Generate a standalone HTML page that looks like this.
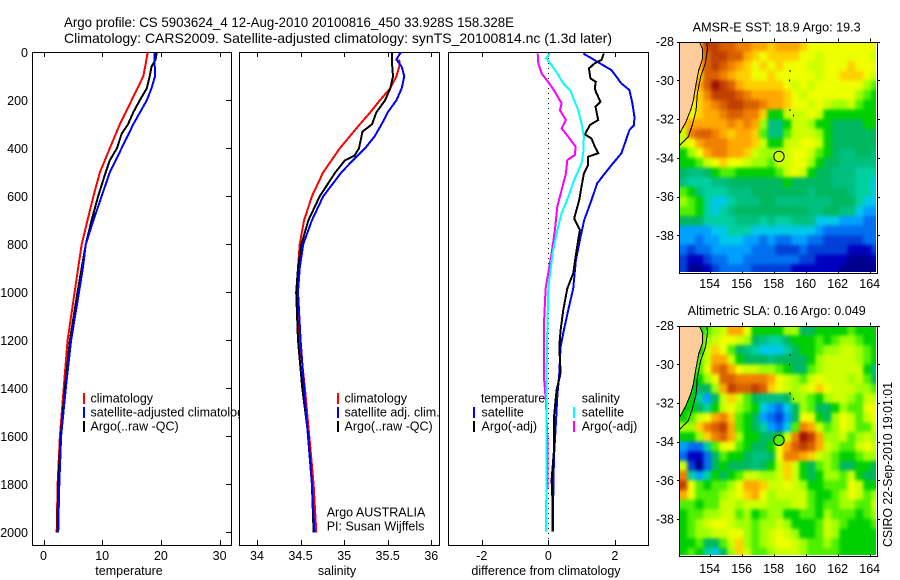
<!DOCTYPE html>
<html lang="en">
<head>
<meta charset="utf-8">
<title>Argo profile CS 5903624_4</title>
<style>
html,body{margin:0;padding:0;background:#fff;}
svg{display:block;}
text{font-family:"Liberation Sans",sans-serif;font-size:12.5px;fill:#000;}
.title{font-size:14px;}
.maptitle{font-size:12.5px;}
</style>
</head>
<body>
<svg id="chart" xmlns="http://www.w3.org/2000/svg" width="900" height="580" viewBox="0 0 900 580">
<rect x="0" y="0" width="900" height="580" fill="#fff"/>
<defs>
<filter id="map-smooth" filterUnits="userSpaceOnUse" x="640" y="0" width="260" height="580" color-interpolation-filters="sRGB"><feGaussianBlur stdDeviation="1.8"/></filter>
</defs>
<text class="title" x="64" y="27" textLength="450" lengthAdjust="spacingAndGlyphs">Argo profile: CS 5903624_4 12-Aug-2010 20100816_450 33.928S 158.328E</text>
<text class="title" x="64" y="43" textLength="548" lengthAdjust="spacingAndGlyphs">Climatology: CARS2009. Satellite-adjusted climatology: synTS_20100814.nc (1.3d later)</text>

<g id="panel-temp">
<rect x="32.5" y="52.5" width="199" height="493" fill="#fff" stroke="#000"/>
<text x="129" y="575" text-anchor="middle">temperature</text>
</g>
<g>
<rect x="83" y="393" width="2" height="11" fill="#f00"/>
<rect x="83" y="407" width="2" height="11" fill="#00f"/>
<rect x="83" y="421" width="2" height="11" fill="#000"/>
<text x="90.5" y="402.5">climatology</text>
<text x="90.5" y="416.5">satellite-adjusted climatology</text>
<text x="90.5" y="430.5">Argo(..raw -QC)</text>
</g>

<g id="panel-sal">
<rect x="239.5" y="52.5" width="200" height="493" fill="#fff" stroke="#000"/>
<text x="337" y="575" text-anchor="middle">salinity</text>
</g>
<g>
<rect x="337" y="393" width="2" height="11" fill="#f00"/>
<rect x="337" y="407" width="2" height="11" fill="#00f"/>
<rect x="337" y="421" width="2" height="11" fill="#000"/>
<text x="344.5" y="402.5">climatology</text>
<text x="344.5" y="416.5">satellite adj. clim.</text>
<text x="344.5" y="430.5">Argo(..raw -QC)</text>
<text x="326.7" y="516.5">Argo AUSTRALIA</text>
<text x="326.7" y="530.5">PI: Susan Wijffels</text>
</g>

<g id="panel-diff">
<rect x="448.5" y="52.5" width="200" height="493" fill="#fff" stroke="#000"/>
<text x="546" y="575" text-anchor="middle">difference from climatology</text>
</g>
<g>
<text x="481" y="402.5" textLength="64" lengthAdjust="spacingAndGlyphs">temperature</text>
<rect x="473" y="407" width="2" height="11" fill="#00f"/>
<rect x="473" y="421" width="2" height="11" fill="#000"/>
<text x="481.5" y="416.5">satellite</text>
<text x="481.5" y="430.5">Argo(-adj)</text>
<text x="581.7" y="402.5">salinity</text>
<rect x="573" y="407" width="2" height="11" fill="#0ff"/>
<rect x="573" y="421" width="2" height="11" fill="#f0f"/>
<text x="581.7" y="416.5">satellite</text>
<text x="581.7" y="430.5">Argo(-adj)</text>
</g>

<clipPath id="clip-sst"><rect x="680" y="42" width="196" height="230"/></clipPath>
<clipPath id="clip-sla"><rect x="680" y="326" width="196" height="229"/></clipPath>
<text class="maptitle" x="692.7" y="31.5" textLength="168" lengthAdjust="spacingAndGlyphs">AMSR-E SST: 18.9 Argo: 19.3</text>
<g id="map-sst"></g>
<text class="maptitle" x="687.7" y="315" textLength="178" lengthAdjust="spacingAndGlyphs">Altimetric SLA: 0.16 Argo: 0.049</text>
<g id="map-sla"></g>
<text transform="translate(892,547) rotate(-90)" textLength="165" lengthAdjust="spacingAndGlyphs">CSIRO 22-Sep-2010 19:01:01</text>
</svg>

<script>
// ---- axis ticks ----
const depthTicks = [0, 200, 400, 600, 800, 1000, 1200, 1400, 1600, 1800, 2000];
const tempTicks = [0, 10, 20, 30];
const salTicks = [34, 34.5, 35, 35.5, 36];
const diffTicks = [-2, 0, 2];
const lonTicks = [154, 156, 158, 160, 162, 164];
const latTicks = [28, 30, 32, 34, 36, 38];

// ---- temperature panel ----
const tempClimDepth = [0, 50, 100, 130, 200, 300, 400, 500, 600, 700, 800, 900, 1000, 1200, 1400, 1600, 1800, 2000];
const tempClim = [17.75, 17.4, 17.0, 16.4, 15.0, 13.0, 11.3, 9.6, 8.5, 7.5, 6.5, 5.9, 5.3, 4.1, 3.44, 2.8, 2.4, 2.25];
const tempSatDepth = [0, 100, 150, 200, 300, 400, 500, 600, 700, 800, 900, 1000, 1200, 1400, 1600, 1800, 2000];
const tempSat = [18.9, 19.0, 18.4, 17.6, 15.3, 13.3, 11.3, 9.9, 8.5, 7.2, 6.7, 6.05, 4.7, 3.8, 3.0, 2.7, 2.5];
const tempArgoDepth = [0, 30, 60, 100, 150, 200, 250, 300, 340, 400, 450, 500, 600, 700, 800, 1000, 1200, 1400, 1600, 1800, 2000];
const tempArgo = [19.3, 19.1, 18.4, 18.1, 17.6, 16.4, 15.3, 14.4, 13.3, 12.5, 11.3, 10.6, 9.3, 8.2, 7.2, 5.8, 4.5, 3.65, 2.93, 2.5, 2.35];

// ---- salinity panel ----
const salClimDepth = [30, 50, 100, 150, 200, 250, 300, 400, 500, 600, 700, 800, 900, 1000, 1200, 1400, 1600, 1800, 2000];
const salClim = [35.63, 35.64, 35.6, 35.53, 35.41, 35.30, 35.18, 34.95, 34.76, 34.63, 34.54, 34.49, 34.47, 34.47, 34.49, 34.55, 34.6, 34.65, 34.68];
const salSatDepth = [0, 30, 60, 100, 150, 200, 250, 300, 350, 400, 450, 500, 600, 700, 800, 900, 1000, 1200, 1400, 1600, 1800, 2000];
const salSat = [35.65, 35.6, 35.66, 35.69, 35.66, 35.6, 35.5, 35.43, 35.35, 35.24, 35.1, 34.97, 34.76, 34.63, 34.53, 34.49, 34.47, 34.5, 34.54, 34.585, 34.63, 34.66];
const salArgoDepth = [0, 50, 100, 150, 200, 250, 300, 330, 400, 430, 450, 500, 600, 700, 800, 900, 1000, 1200, 1400, 1600, 1800, 2000];
const salArgo = [35.55, 35.55, 35.56, 35.53, 35.47, 35.37, 35.32, 35.21, 35.17, 35.12, 35.01, 34.9, 34.72, 34.59, 34.51, 34.47, 34.45, 34.47, 34.52, 34.59, 34.63, 34.65];

// ---- difference panel ----
const diffTempSatDepth = [5, 25, 46, 74, 130, 157, 213, 268, 303, 324, 380, 421, 470, 505, 546, 616, 699, 782, 866, 984, 1073, 1157, 1226, 1337, 1434, 1545, 1684, 1823, 1997];
const diffTempSat = [1.05, 1.3, 1.55, 1.9, 2.2, 2.44, 2.53, 2.59, 2.58, 2.44, 2.3, 2.2, 1.9, 1.7, 1.47, 1.3, 1.08, 0.95, 0.83, 0.75, 0.6, 0.47, 0.37, 0.33, 0.27, 0.23, 0.17, 0.15, 0.14];
const diffTempArgoDepth = [5, 32, 46, 67, 109, 123, 150, 171, 206, 227, 282, 303, 342, 359, 393, 421, 435, 470, 505, 560, 616, 692, 741, 782, 852, 921, 984, 1073, 1157, 1226, 1337, 1407, 1518, 1657, 1782, 1879, 1997];
const diffTempArgo = [1.67, 1.6, 1.4, 1.22, 1.27, 1.43, 1.4, 1.45, 1.57, 1.42, 1.5, 1.25, 1.1, 1.3, 1.4, 1.5, 1.2, 1.2, 1.07, 1.0, 0.93, 0.78, 0.95, 0.9, 0.82, 0.75, 0.57, 0.45, 0.37, 0.33, 0.37, 0.25, 0.17, 0.17, 0.1, 0.13, 0.13];
const diffSalSatDepth = [5, 25, 53, 88, 130, 157, 199, 241, 296, 352, 421, 463, 532, 602, 671, 741, 838, 984, 1157, 1407, 1684, 1997];
const diffSalSat = [0.05, -0.07, 0.1, 0.27, 0.45, 0.65, 0.78, 0.9, 1.0, 1.07, 1.05, 1.0, 0.78, 0.6, 0.4, 0.27, 0.13, 0.0, -0.03, -0.06, -0.05, -0.07];
const diffSalArgoDepth = [5, 46, 88, 130, 164, 213, 241, 282, 317, 352, 393, 428, 449, 505, 574, 643, 741, 838, 984, 1129, 1358, 1407, 1462, 1600, 1820];
const diffSalArgo = [-0.32, -0.3, -0.2, 0.03, 0.2, 0.4, 0.35, 0.53, 0.4, 0.6, 0.82, 0.8, 0.57, 0.53, 0.4, 0.27, 0.2, 0.1, -0.08, -0.13, -0.13, -0.1, -0.07, -0.03, -0.02];

// ---- map data: colour level per 0.5 degree cell, -1 = land ----
const sstLevels = [
[-1,-1,15,18,18,17,17,16,16,15,15,14,15,15,15,14,13,13,13,13,13,13,13,13,13],
[-1,-1,15,17,18,18,17,17,15,14,13,14,14,14,14,13,13,12,13,13,13,13,13,13,12],
[-1,-1,15,17,18,17,16,15,14,13,14,13,14,13,13,13,12,12,13,13,13,14,13,13,13],
[-1,-1,14,17,17,16,15,14,14,13,13,14,13,13,13,13,13,12,13,13,14,14,14,13,12],
[-1,-1,15,17,19,18,17,15,14,14,14,14,14,13,12,13,12,13,13,13,13,13,13,11,10],
[-1,-1,14,16,18,18,18,17,16,15,15,15,15,14,13,12,13,13,13,13,13,13,11,10,9],
[-1,13,14,15,16,17,18,18,17,17,16,15,15,14,13,13,12,13,12,11,11,12,10,9,9],
[-1,13,14,15,15,16,17,17,16,16,14,9,9,12,12,12,13,12,9,9,9,9,9,9,9],
[14,15,15,15,15,15,16,15,16,15,11,7,7,9,12,12,11,9,9,8,8,8,8,9,9],
[12,16,17,17,16,15,14,15,15,14,10,7,7,10,12,12,12,11,9,8,8,8,8,8,8],
[12,13,15,16,16,16,15,15,15,14,12,9,9,12,12,13,13,12,9,8,8,8,8,8,8],
[9,11,13,15,16,16,15,15,14,12,11,11,12,12,13,13,12,10,9,8,7,7,8,8,7],
[9,9,10,12,13,14,13,13,12,11,11,10,12,12,13,13,11,9,8,8,7,7,7,7,7],
[8,7,7,8,9,10,10,9,9,9,9,9,10,12,13,12,9,8,8,7,7,7,6,6,6],
[7,6,6,6,7,7,8,8,8,8,8,8,8,9,8,8,8,8,8,7,7,7,6,6,5],
[10,9,7,6,6,6,7,7,7,8,8,8,8,8,8,8,7,8,8,8,8,7,6,6,5],
[11,10,9,6,5,5,6,7,7,7,8,8,7,7,7,7,7,7,7,8,8,8,6,5,5],
[10,10,9,6,5,6,7,8,8,8,8,8,8,8,8,8,7,7,8,8,7,7,5,4,4],
[8,8,8,6,6,6,6,7,7,7,6,7,6,6,7,7,7,5,5,5,4,4,4,3,3],
[4,4,4,4,5,5,6,6,6,5,5,5,5,5,5,5,5,4,3,3,3,3,3,3,3],
[4,4,3,4,4,5,5,5,4,4,3,4,3,3,4,4,3,3,2,2,2,2,2,3,3],
[3,2,3,3,4,4,4,4,4,3,3,3,2,2,2,3,2,2,2,2,2,1,1,1,2],
[2,1,1,2,3,3,4,4,3,3,3,3,3,3,3,2,2,1,1,1,1,0,0,0,1],
[2,0,0,1,2,3,3,3,3,2,2,2,2,2,1,1,1,1,1,1,0,0,0,0,0]
];
const slaLevels = [
[-1,-1,9,10,11,12,15,15,13,9,9,9,9,11,11,8,8,9,9,9,9,10,9,9,9],
[-1,-1,9,11,12,13,13,12,11,8,7,6,6,8,9,9,9,10,9,10,11,11,10,9,9],
[-1,-1,9,12,14,13,10,8,7,6,5,5,5,6,8,9,9,10,11,11,12,12,11,10,9],
[-1,-1,10,12,15,15,12,9,8,8,8,7,8,8,8,8,9,11,12,12,12,12,11,10,9],
[-1,-1,10,13,16,17,15,13,12,12,11,11,10,9,8,8,10,11,12,12,12,12,12,9,7],
[-1,-1,9,11,13,17,17,16,16,16,16,15,13,12,11,10,12,13,12,12,12,11,12,10,8],
[-1,9,8,8,11,15,18,17,17,18,17,14,13,12,11,12,13,14,13,12,12,12,11,11,10],
[-1,9,6,4,8,12,14,12,10,8,7,7,7,8,11,11,10,9,11,12,12,11,10,12,12],
[9,9,8,6,9,12,13,11,10,9,5,4,3,5,8,11,10,8,8,9,11,10,10,13,13],
[9,10,12,13,15,16,14,10,9,8,4,3,2,4,8,13,13,9,8,11,13,12,10,12,13],
[11,11,14,16,17,18,15,10,9,8,6,4,3,5,10,16,15,12,10,11,13,12,10,10,12],
[9,9,11,14,16,17,15,11,9,9,8,8,9,12,16,19,18,15,11,11,12,10,11,12,11],
[4,3,3,6,10,13,13,10,9,8,8,9,13,15,17,18,17,15,12,11,10,10,12,13,12],
[3,1,1,3,8,10,9,9,8,7,7,8,13,16,16,15,14,12,11,10,9,9,10,11,11],
[12,2,0,3,8,9,8,8,8,7,8,9,12,14,12,9,8,10,11,10,8,8,9,9,8],
[16,6,4,6,9,8,9,10,12,12,11,11,12,14,12,9,8,9,11,11,10,12,9,8,8],
[18,13,10,9,10,10,11,13,15,15,14,12,12,13,12,11,9,9,10,10,10,13,12,9,9],
[15,13,10,10,10,11,12,13,14,15,13,11,12,12,12,12,10,9,9,10,11,13,12,10,11],
[10,10,9,10,10,12,12,11,12,12,12,11,11,11,12,12,10,9,10,10,11,11,10,10,12],
[9,10,10,11,11,12,12,10,11,9,10,11,11,9,9,10,10,9,11,10,10,10,9,10,11],
[9,10,11,12,13,13,12,11,11,10,11,11,12,11,9,9,9,10,12,11,10,9,9,9,10],
[9,10,11,11,12,12,13,13,11,10,11,12,13,12,11,9,9,10,12,11,9,9,9,9,9],
[9,9,10,8,8,10,12,14,11,10,11,12,13,13,12,11,10,10,11,10,9,9,9,9,9],
[9,10,9,6,5,8,11,14,12,10,10,11,12,12,12,11,10,10,10,10,9,9,9,9,9]
];
const levelColors = ['#00008f','#0000c0','#0040d8','#0070f0','#00a0ff','#00c8e8','#00d0a0','#00c080','#00b860','#00d000','#50f000','#a0ff00','#ccff00','#eeff00','#ffd000','#ffa800','#f08000','#d86000','#c04000','#a01000'];

const coastLon = [153.35, 153.56, 153.56, 153.31, 153.08, 152.98, 152.81, 152.52, 152.35, 152.1];
const coastLat = [28.0, 28.4, 28.86, 29.46, 30.49, 31.01, 31.53, 32.13, 32.39, 32.77];
const shelfLon = [153.81, 153.87, 153.73, 153.44, 153.23, 153.15, 152.92, 152.67, 152.1];
const shelfLat = [28.0, 28.34, 29.12, 29.8, 30.66, 31.53, 32.3, 32.9, 33.38];
const islandLon = [159.02, 158.98, 159.02, 159.23, 152.46];
const islandLat = [29.51, 30.01, 31.52, 31.8, 32.25];
const profileLon = [158.328];
const profileLat = [33.928];
const profileSstLevel = [12];
const profileSlaLevel = [10];

const NS = 'http://www.w3.org/2000/svg';
function mk(parent, tag, attrs, txt) {
  const el = document.createElementNS(NS, tag);
  for (const k in attrs) el.setAttribute(k, attrs[k]);
  if (txt !== undefined) el.textContent = txt;
  parent.appendChild(el);
  return el;
}
const yDepth = d => 52.3 + 0.24 * d;
const xTemp = v => 43.5 + 5.87 * v;
const xSal = v => 257 + 87.15 * (v - 34);
const xDiff = v => 548.3 + 33.25 * v;

function tickMark(parent, x1, y1, x2, y2) {
  const el = mk(parent, 'line', {x1: x1, y1: y1, x2: x2, y2: y2, stroke: '#000', 'shape-rendering': 'crispEdges'});
  
  
}
function tickLabel(parent, x, y, anchor, s) {
  const el = mk(parent, 'text', {x: x, y: y, 'text-anchor': anchor}, s);
  
  
}
function profileLine(parent, depths, vals, xFn, color) {
  const pts = vals.map((v, i) => xFn(v).toFixed(1) + ',' + yDepth(depths[i]).toFixed(1)).join(' ');
  const el = mk(parent, 'polyline', {points: pts, fill: 'none', stroke: color, 'stroke-width': 2, 'shape-rendering': 'crispEdges'});
  
  
}
function xAxis(parent, ticks, xFn) {
  ticks.forEach(t => {
    const x = Math.round(xFn(t)) + 0.5;
    tickMark(parent, x, 53, x, 57);
    tickMark(parent, x, 545, x, 540);
    tickLabel(parent, xFn(t), 560, 'middle', String(t));
  });
}

const pT = document.getElementById('panel-temp');
const pS = document.getElementById('panel-sal');
const pD = document.getElementById('panel-diff');

xAxis(pT, tempTicks, xTemp);
depthTicks.forEach(d => {
  const y = Math.round(yDepth(d)) + 0.5;
  tickMark(pT, 226, y, 231, y);
  tickLabel(pT, 28, yDepth(d) + 4.5, 'end', String(d));
});
profileLine(pT, tempClimDepth, tempClim, xTemp, '#f00');
profileLine(pT, tempArgoDepth, tempArgo, xTemp, '#000');
profileLine(pT, tempSatDepth, tempSat, xTemp, '#00f');

xAxis(pS, salTicks, xSal);
profileLine(pS, salClimDepth, salClim, xSal, '#f00');
profileLine(pS, salArgoDepth, salArgo, xSal, '#000');
profileLine(pS, salSatDepth, salSat, xSal, '#00f');

xAxis(pD, diffTicks, xDiff);
const zero = mk(pD, 'line', {x1: 548.5, y1: 53, x2: 548.5, y2: 545, stroke: '#000', 'stroke-dasharray': '1 4', 'shape-rendering': 'crispEdges'});


profileLine(pD, diffTempSatDepth, diffTempSat, xDiff, '#00f');
profileLine(pD, diffTempArgoDepth, diffTempArgo, xDiff, '#000');
profileLine(pD, diffSalArgoDepth, diffSalArgo, xDiff, '#f0f');
profileLine(pD, diffSalSatDepth, diffSalSat, xDiff, '#0ff');

function drawMap(parent, levels, top, bottom, deg, clipId, pointLevel, labelBase) {
  const lonX = l => 709.7 + 16 * (l - 154);
  const latY = l => top + deg * (l - 28);
  const LEFT = 679.5, RIGHT = 877.5;
  const PAD = 14;
  const g = mk(parent, 'g', {'clip-path': 'url(#' + clipId + ')'});
  
  
  const smooth = mk(g, 'g', {filter: 'url(#map-smooth)'});
  
  
  levels.forEach((row, j) => {
    const firstSea = row.find(v => v >= 0);
    row.forEach((lv, i) => {
      const shown = lv < 0 ? firstSea : lv;
      let x = lonX(152.1 + 0.5 * i), w = 8.5, y = latY(28 + 0.5 * j), h = deg / 2 + 0.5;
      if (i === 0) { x -= PAD; w += PAD; }
      if (i === row.length - 1) { w += PAD; }
      if (j === 0) { y -= PAD; h += PAD; }
      if (j === levels.length - 1) { h += PAD; }
      const c = mk(smooth, 'rect', {x: x, y: y, width: w, height: h, fill: levelColors[shown]});
      
      
    });
  });
  const coast = coastLon.map((l, i) => lonX(l).toFixed(1) + ',' + latY(coastLat[i]).toFixed(1)).join(' ');
  const land = mk(g, 'polygon', {points: LEFT + ',' + top + ' ' + coast + ' ' + LEFT + ',' + latY(32.77), fill: '#ffcc99', stroke: '#000', 'stroke-width': 1, 'shape-rendering': 'crispEdges'});
  
  
  const shelf = mk(g, 'polyline', {points: shelfLon.map((l, i) => lonX(l).toFixed(1) + ',' + latY(shelfLat[i]).toFixed(1)).join(' '), fill: 'none', stroke: '#000', 'stroke-width': 1, 'shape-rendering': 'crispEdges'});
  
  
  islandLon.forEach((l, i) => {
    const s = mk(g, 'rect', {x: lonX(l) - 0.5, y: latY(islandLat[i]) - 1, width: 1, height: 2, fill: '#000', 'shape-rendering': 'crispEdges'});
    
    
  });
  const frame = mk(parent, 'rect', {x: LEFT, y: Math.round(top) + 0.5, width: RIGHT - LEFT, height: bottom - Math.round(top) - 0.5, fill: 'none', stroke: '#000', 'shape-rendering': 'crispEdges'});
  
  
  lonTicks.forEach(l => {
    const x = Math.round(lonX(l)) + 0.5;
    tickMark(parent, x, top - 3, x, top);
    tickMark(parent, x, bottom - 2, x, bottom);
    tickLabel(parent, lonX(l), labelBase, 'middle', String(l));
  });
  latTicks.forEach(l => {
    const y = Math.round(latY(l)) + 0.5;
    tickMark(parent, 677, y, 679, y);
    tickMark(parent, 878, y, 880, y);
    tickLabel(parent, 674, latY(l) + 4.5, 'end', '-' + l);
  });
  const m = mk(parent, 'circle', {cx: lonX(profileLon[0]), cy: latY(profileLat[0]), r: 5.2, fill: levelColors[pointLevel], stroke: '#000', 'stroke-width': 1});
  
  
}
drawMap(document.getElementById('map-sst'), sstLevels, 41.7, 273.5, 19.36, 'clip-sst', profileSstLevel[0], 288);
drawMap(document.getElementById('map-sla'), slaLevels, 325.7, 556.5, 19.33, 'clip-sla', profileSlaLevel[0], 573);
</script>
</body>
</html>
